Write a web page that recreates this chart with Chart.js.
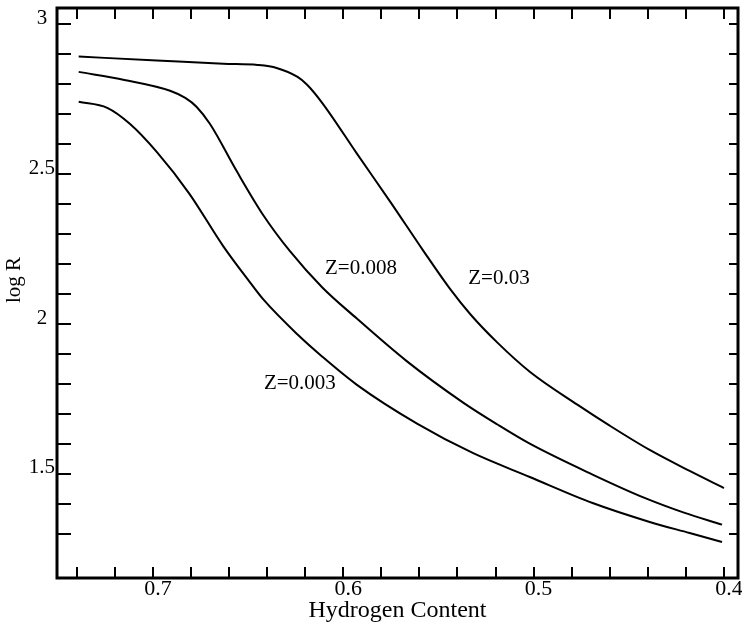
<!DOCTYPE html>
<html>
<head>
<meta charset="utf-8">
<script src="https://cdn.jsdelivr.net/npm/chart.js@4.4.1/dist/chart.umd.min.js"></script>
<style>
  html, body { margin: 0; padding: 0; background: #fff; }
  canvas { display: block; }
</style>
</head>
<body>
<canvas id="chart" width="742" height="633"></canvas>
<script>
// log R against hydrogen content
const xZ03 = [0.739, 0.698, 0.663, 0.645, 0.635, 0.624, 0.619, 0.611, 0.593, 0.575, 0.558, 0.544, 0.533, 0.519, 0.502, 0.477, 0.460, 0.439, 0.418, 0.400];
const yZ03 = [2.892, 2.879, 2.868, 2.864, 2.854, 2.824, 2.798, 2.737, 2.570, 2.405, 2.245, 2.118, 2.031, 1.938, 1.841, 1.731, 1.661, 1.580, 1.510, 1.453];

const xZ008 = [0.739, 0.715, 0.691, 0.683, 0.677, 0.670, 0.656, 0.642, 0.628, 0.611, 0.593, 0.567, 0.537, 0.519, 0.502, 0.469, 0.442, 0.421, 0.401];
const yZ008 = [2.841, 2.814, 2.778, 2.754, 2.724, 2.667, 2.510, 2.363, 2.243, 2.122, 2.019, 1.878, 1.738, 1.665, 1.601, 1.498, 1.421, 1.371, 1.331];

const xZ003 = [0.739, 0.724, 0.712, 0.698, 0.681, 0.663, 0.649, 0.642, 0.624, 0.611, 0.593, 0.561, 0.532, 0.502, 0.469, 0.439, 0.418, 0.401];
const yZ003 = [2.741, 2.721, 2.667, 2.574, 2.436, 2.259, 2.139, 2.082, 1.965, 1.891, 1.798, 1.667, 1.570, 1.490, 1.403, 1.340, 1.303, 1.273];

const xTickValues = [0.40, 0.42, 0.44, 0.46, 0.48, 0.50, 0.52, 0.54, 0.56, 0.58, 0.60, 0.62, 0.64, 0.66, 0.68, 0.70, 0.72, 0.74];
const xTickLabels = ["0.4", "", "", "", "", "0.5", "", "", "", "", "0.6", "", "", "", "", "0.7", "", ""];
const yTickValues = [1.3, 1.4, 1.5, 1.6, 1.7, 1.8, 1.9, 2.0, 2.1, 2.2, 2.3, 2.4, 2.5, 2.6, 2.7, 2.8, 2.9, 3.0];
const yTickLabels = ["", "", "1.5", "", "", "", "", "2", "", "", "", "", "2.5", "", "", "", "", "3"];

const curveNames = ["Z=0.03", "Z=0.008", "Z=0.003"];
// where each curve's name sits, in data units
const nameSpots = [
  { x: 0.5182, y: 2.152 },
  { x: 0.5907, y: 2.186 },
  { x: 0.6228, y: 1.801 }
];

const serif = "'Liberation Serif', 'Times New Roman', serif";

function toPoints(xs, ys) {
  return xs.map((v, i) => ({ x: v, y: ys[i] }));
}

function curve(xs, ys) {
  return {
    data: toPoints(xs, ys),
    borderColor: "#000",
    borderWidth: 2,
    pointRadius: 0,
    cubicInterpolationMode: "monotone",
    fill: false
  };
}

// frame with inward ticks on all four sides, curve names, y title
const framePlugin = {
  id: "frame",
  afterDatasetsDraw(chart) {
    const { ctx, chartArea: a, scales: { x, y } } = chart;
    ctx.save();
    ctx.strokeStyle = "#000";
    ctx.lineWidth = 3;
    ctx.strokeRect(a.left, a.top, a.right - a.left, a.bottom - a.top);

    ctx.lineWidth = 2;
    ctx.beginPath();
    xTickValues.forEach(v => {
      const px = Math.round(x.getPixelForValue(v));
      ctx.moveTo(px, a.bottom);
      ctx.lineTo(px, a.bottom - 11);
      ctx.moveTo(px, a.top);
      ctx.lineTo(px, a.top + 11);
    });
    yTickValues.forEach(v => {
      const py = Math.round(y.getPixelForValue(v));
      ctx.moveTo(a.left, py);
      ctx.lineTo(a.left + 14, py);
      ctx.moveTo(a.right, py);
      ctx.lineTo(a.right - 9, py);
    });
    ctx.stroke();

    ctx.fillStyle = "#000";
    ctx.font = "21px " + serif;
    ctx.textAlign = "center";
    ctx.textBaseline = "middle";
    curveNames.forEach((name, i) => {
      ctx.fillText(name, x.getPixelForValue(nameSpots[i].x), y.getPixelForValue(nameSpots[i].y));
    });

    ctx.translate(14, 280);
    ctx.rotate(-Math.PI / 2);
    ctx.fillText("log R", 0, 0);
    ctx.restore();
  }
};

new Chart(document.getElementById("chart"), {
  type: "line",
  data: {
    datasets: [curve(xZ03, yZ03), curve(xZ008, yZ008), curve(xZ003, yZ003)]
  },
  options: {
    responsive: false,
    animation: false,
    layout: { padding: { top: 8, right: 4, left: 0, bottom: 0 } },
    plugins: {
      legend: { display: false },
      tooltip: { enabled: false }
    },
    scales: {
      x: {
        type: "linear",
        reverse: true,
        min: 0.3926,
        max: 0.7504,
        afterBuildTicks: s => { s.ticks = xTickValues.map(v => ({ value: v })); },
        afterFit: s => { s.height = 55; s.paddingLeft = 0; s.paddingRight = 0; },
        grid: { display: false },
        border: { display: false },
        ticks: {
          autoSkip: false,
          maxRotation: 0,
          padding: -8,
          labelOffset: 5,
          color: "#000",
          font: { family: serif, size: 22, lineHeight: 1 },
          callback: (value, index) => xTickLabels[index]
        },
        title: {
          display: true,
          text: "Hydrogen Content",
          color: "#000",
          font: { family: serif, size: 24 },
          padding: { top: 0, bottom: 8 }
        }
      },
      y: {
        min: 1.153,
        max: 3.054,
        afterBuildTicks: s => { s.ticks = yTickValues.map(v => ({ value: v })); },
        afterFit: s => { s.width = 57; s.paddingTop = 0; s.paddingBottom = 0; },
        grid: { display: false },
        border: { display: false },
        ticks: {
          autoSkip: false,
          padding: -6,
          labelOffset: -6,
          crossAlign: "center",
          color: "#000",
          font: { family: serif, size: 21 },
          callback: (value, index) => yTickLabels[index]
        }
      }
    }
  },
  plugins: [framePlugin]
});
</script>
</body>
</html>
